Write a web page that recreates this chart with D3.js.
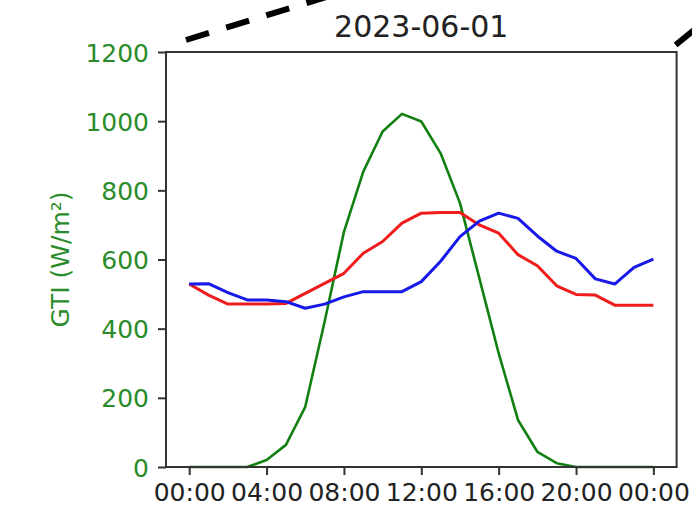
<!DOCTYPE html>
<meta charset="utf-8">
<head>
  <script src="https://d3js.org/d3.v7.min.js"></script>
  <style>
    body { margin: 0; background: #fff; }
    text { font-family: "DejaVu Sans", sans-serif; }
  </style>
</head>
<body>
  <div id="chart"></div>
  <script>
    // hourly values
    var hours = [0, 1, 2, 3, 4, 5, 6, 7, 8, 9, 10, 11, 12, 13, 14, 15, 16, 17, 18, 19, 20, 21, 22, 23, 24];
    var gti   = [0, 0, 0, 0, 20, 64, 174, 420, 680, 854, 970, 1021, 999, 907, 763, 546, 329, 136, 44, 11, 0, 0, 0, 0, 0];
    var red   = [529, 497, 471, 471, 471, 473, 502, 531, 560, 618, 652, 705, 734, 736, 736, 700, 676, 614, 582, 524, 499, 497, 468, 468, 468];
    var blue  = [529, 530, 504, 483, 483, 478, 459, 471, 492, 507, 507, 507, 536, 595, 666, 711, 734, 719, 668, 624, 603, 544, 529, 577, 601];

    var xTickHours = [0, 4, 8, 12, 16, 20, 24];
    var xTickLabels = ["00:00", "04:00", "08:00", "12:00", "16:00", "20:00", "00:00"];
    var yTicks = [0, 200, 400, 600, 800, 1000, 1200];
    var title = "2023-06-01";

    var W = 692, H = 519;
    var margin = { top: 52, right: 15.4, bottom: 52, left: 166 };
    var width = W - margin.left - margin.right,
        height = H - margin.top - margin.bottom;

    var svg = d3.select("#chart")
      .append("svg")
      .attr("width", W)
      .attr("height", H);

    var g = svg.append("g")
      .attr("transform", "translate(" + margin.left + "," + margin.top + ")");

    var x = d3.scaleLinear().domain([-1.2, 25.2]).range([0, width]);
    var y = d3.scaleLinear().domain([0, 1200]).range([height, 0]);

    // lines
    var line = d3.line()
      .x(function (d) { return x(d[0]); })
      .y(function (d) { return y(d[1]); });

    var series = [
      { vals: gti, color: "#118011", w: 2.6 },
      { vals: red, color: "#ee1c1c", w: 3 },
      { vals: blue, color: "#1818e8", w: 3 }
    ];
    series.forEach(function (s) {
      g.append("path")
        .datum(hours.map(function (h, i) { return [h, s.vals[i]]; }))
        .attr("fill", "none")
        .attr("stroke", s.color)
        .attr("stroke-width", s.w)
        .attr("stroke-linejoin", "round")
        .attr("d", line);
    });

    // frame
    g.append("rect")
      .attr("width", width)
      .attr("height", height)
      .attr("fill", "none")
      .attr("stroke", "#333")
      .attr("stroke-width", 2);

    // x axis
    var xAxis = g.append("g")
      .attr("transform", "translate(0," + height + ")")
      .call(d3.axisBottom(x)
        .tickValues(xTickHours)
        .tickFormat(function (d, i) { return xTickLabels[i]; })
        .tickSize(8)
        .tickPadding(8));
    xAxis.select(".domain").remove();
    xAxis.selectAll("line").attr("stroke", "#333").attr("stroke-width", 2);
    xAxis.selectAll("text")
      .attr("fill", "#222")
      .style("font-size", "25px")
      .style("font-family", "DejaVu Sans");

    // y axis
    var yAxis = g.append("g")
      .call(d3.axisLeft(y)
        .tickValues(yTicks)
        .tickFormat(d3.format("d"))
        .tickSize(8)
        .tickPadding(9));
    yAxis.select(".domain").remove();
    yAxis.selectAll("line").attr("stroke", "#333").attr("stroke-width", 2);
    yAxis.selectAll("text")
      .attr("fill", "#2a8c2a")
      .attr("dy", "0.36em")
      .style("font-size", "25px")
      .style("font-family", "DejaVu Sans");

    // y label
    g.append("text")
      .attr("transform", "translate(" + (-106) + "," + y(600) + ") rotate(-90)")
      .attr("text-anchor", "middle")
      .attr("dy", "0.35em")
      .attr("fill", "#2a8c2a")
      .style("font-size", "25px")
      .text("GTI (W/m²)");

    // title
    g.append("text")
      .attr("x", width / 2)
      .attr("y", -15)
      .attr("text-anchor", "middle")
      .attr("fill", "#222")
      .style("font-size", "30px")
      .text(title);

    // dashed connector lines coming from outside the crop
    var connectors = [
      { x0: 20, y0: -12, dx: 300, dy: -92 },
      { x0: width - 1, y0: -7, dx: 60, dy: -49 }
    ];
    connectors.forEach(function (c) {
      g.append("line")
        .attr("x1", c.x0).attr("y1", c.y0)
        .attr("x2", c.x0 + c.dx).attr("y2", c.y0 + c.dy)
        .attr("stroke", "#000")
        .attr("stroke-width", 6)
        .attr("stroke-dasharray", "24,18");
    });
  </script>
</body>
